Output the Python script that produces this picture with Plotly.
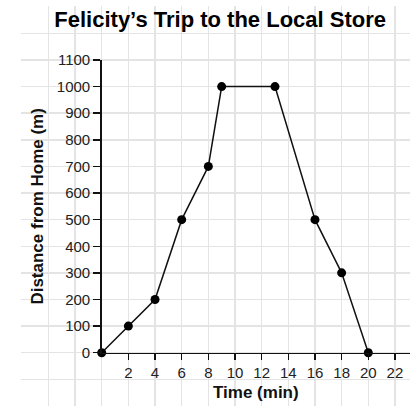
import plotly.graph_objects as go

time_min = [0, 2, 4, 6, 8, 9, 13, 16, 18, 20]
distance_m = [0, 100, 200, 500, 700, 1000, 1000, 500, 300, 0]
x_ticks = [2, 4, 6, 8, 10, 12, 14, 16, 18, 20, 22]
y_ticks = list(range(0, 1101, 100))

W, H = 410, 406
FONT = "Liberation Sans, Arial, sans-serif"

fig = go.Figure()
# background graph-paper grid subplot (no data)
fig.add_trace(go.Scatter(x=[], y=[], xaxis="x", yaxis="y", showlegend=False, hoverinfo="skip"))
# data subplot
fig.add_trace(go.Scatter(
    x=time_min, y=distance_m, xaxis="x2", yaxis="y2",
    mode="lines+markers",
    line=dict(color="#111111", width=1.5),
    marker=dict(color="#000000", size=9),
    cliponaxis=False, showlegend=False,
))

px_per_min = 13.33
px_per_m = 0.2661
x0_px, y0_px = 101.7, 352.7

gx_lo = -6.05
gx_hi = (W - x0_px) / px_per_min
gy_lo = -(H - y0_px) / px_per_m
gy_hi = 1302

fig.update_layout(
    width=W, height=H,
    margin=dict(l=0, r=0, t=0, b=0, autoexpand=False),
    paper_bgcolor="white", plot_bgcolor="rgba(0,0,0,0)",
    title=dict(text="<b>Felicity’s Trip to the Local Store</b>",
               x=0.537, xanchor="center", y=1 - 19.5 / H, yanchor="middle",
               yref="paper", font=dict(family=FONT, size=22, color="#000000")),
    xaxis=dict(domain=[(x0_px + gx_lo * px_per_min) / W, 1], range=[gx_lo, gx_hi],
               dtick=2, tick0=0, showgrid=True, gridcolor="#e4e4e4", gridwidth=1.5,
               zeroline=False, showticklabels=False, ticks="", showline=False,
               anchor="y", fixedrange=True, automargin=False),
    yaxis=dict(domain=[0, (H - (y0_px - gy_hi * px_per_m)) / H], range=[gy_lo, gy_hi],
               dtick=100, tick0=0, showgrid=True, gridcolor="#e4e4e4", gridwidth=1.5,
               zeroline=False, showticklabels=False, ticks="", showline=False,
               anchor="x", fixedrange=True, automargin=False),
    xaxis2=dict(domain=[x0_px / W, 1], range=[0, gx_hi], anchor="y2", automargin=False,
                tickmode="array", tickvals=x_ticks, ticktext=[str(v) for v in x_ticks],
                showgrid=False, zeroline=False, showline=True, linecolor="#111111", linewidth=1.5,
                ticks="outside", ticklen=6, tickwidth=1.5, tickcolor="#111111",
                tickfont=dict(family=FONT, size=15, color="#222222"),
                title=dict(text="<b>Time (min)</b>", standoff=6,
                           font=dict(family=FONT, size=17, color="#111111"))),
    yaxis2=dict(domain=[(H - y0_px) / H, (H - (y0_px - 1100 * px_per_m)) / H], range=[0, 1100],
                anchor="x2", automargin=False, tickmode="array", tickvals=y_ticks,
                ticktext=[str(v) for v in y_ticks],
                showgrid=False, zeroline=False, showline=True, linecolor="#111111", linewidth=1.5,
                ticks="outside", ticklen=7, tickwidth=1.5, tickcolor="#111111",
                tickfont=dict(family=FONT, size=15, color="#222222"),
                title=dict(text="<b>Distance from Home (m)</b>", standoff=9,
                           font=dict(family=FONT, size=17, color="#111111"))),
)

fig.write_html("out.html", config={"displayModeBar": False, "staticPlot": True},
               post_script="document.body.style.margin='0';document.body.style.overflow='hidden';")
